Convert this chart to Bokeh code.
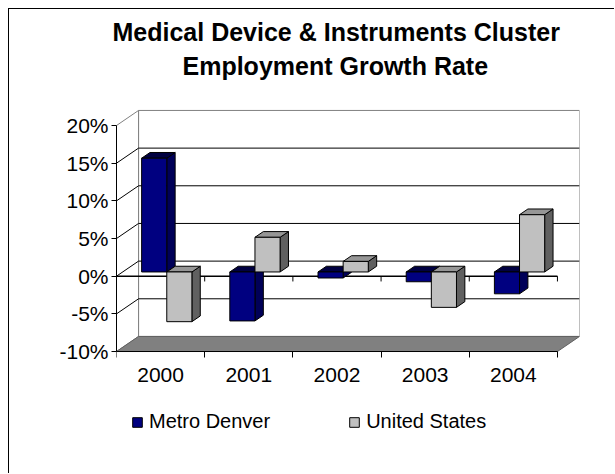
from bokeh.plotting import figure
from bokeh.models import (Range1d, FixedTicker, PrintfTickFormatter, Legend, LegendItem,
                          Title, LinearAxis)
from bokeh.embed import file_html
from bokeh.resources import INLINE

# ---- data ----
categories = ["2000", "2001", "2002", "2003", "2004"]
metro_denver = [15.1, -6.5, -0.8, -1.3, -2.9]
united_states = [-6.6, 4.6, 1.4, -4.7, 7.6]
value_ticks = [-10, -5, 0, 5, 10, 15, 20]
series_names = ["Metro Denver", "United States"]
title_lines = ["Medical Device & Instruments Cluster", "Employment Growth Rate"]

# ---- geometry / style (pseudo-3D oblique projection) ----
DX, DY = 0.25, 2.0          # wall depth offset (x units, % units)
BAR_W = 0.285               # bar width (category units)
F0, FD = 0.28, 0.38         # bar front depth fraction, bar depth fraction
FONT = "Liberation Sans"
n = len(categories)
vmin, vmax = value_ticks[0], value_ticks[-1]

p = figure(width=606, height=465,
           x_range=Range1d(0, n + DX), y_range=Range1d(-20.75, 25.71),
           output_backend="svg", toolbar_location=None,
           x_axis_location=None,
           min_border_left=107, min_border_right=36,
           min_border_top=73, min_border_bottom=42)
p.styles = {"margin-top": "8px", "margin-left": "8px",
            "border-top": "1px solid black", "border-left": "1px solid black"}
p.outline_line_color = None
p.grid.visible = False
p.background_fill_color = "white"
p.border_fill_color = "white"

# ---- walls ----
p.quad(left=[DX], right=[n + DX], bottom=[vmin + DY], top=[vmax + DY],
       fill_color="white", line_color="#808080", line_width=1)
p.patch([0, DX, DX, 0], [vmin, vmin + DY, vmax + DY, vmax],
        fill_color="white", line_color="#808080", line_width=1)
# gridlines
grid_vals = [v for v in value_ticks if vmin < v < vmax]
p.segment(x0=[DX] * len(grid_vals), y0=[v + DY for v in grid_vals],
          x1=[n + DX] * len(grid_vals), y1=[v + DY for v in grid_vals],
          line_color="black", line_width=1)
p.segment(x0=[0] * len(grid_vals), y0=grid_vals,
          x1=[DX] * len(grid_vals), y1=[v + DY for v in grid_vals],
          line_color="black", line_width=1)
# floor
p.patch([0, n, n + DX, DX], [vmin, vmin, vmin + DY, vmin + DY],
        fill_color="#808080", line_color="#606060", line_width=1)

# zero category line in front plane with ticks
p.segment(x0=[0], y0=[0], x1=[n], y1=[0], line_color="black", line_width=1.5)
p.segment(x0=list(range(n + 1)), y0=[0] * (n + 1), x1=list(range(n + 1)),
          y1=[-0.7] * (n + 1), line_color="black", line_width=1)

# ---- bars ----
def draw_series(values, offset, front, top, side):
    fx, fy = F0 * DX, F0 * DY
    bx, by = FD * DX, FD * DY
    lefts = [i + 0.5 + fx + offset for i in range(n)]
    rights = [l + BAR_W for l in lefts]
    hi = [max(v, 0) + fy for v in values]
    lo = [min(v, 0) + fy for v in values]
    side_xs = [[r, r + bx, r + bx, r] for r in rights]
    side_ys = [[l, l + by, h + by, h] for l, h in zip(lo, hi)]
    p.patches(side_xs, side_ys, fill_color=side, line_color="black", line_width=1)
    top_xs = [[l, r, r + bx, l + bx] for l, r in zip(lefts, rights)]
    top_ys = [[h, h, h + by, h + by] for h in hi]
    p.patches(top_xs, top_ys, fill_color=top, line_color="black", line_width=1)
    return p.quad(left=lefts, right=rights, bottom=lo, top=hi,
                  fill_color=front, line_color="black", line_width=1)

r_md = draw_series(metro_denver, -BAR_W, "#000080", "#000040", "#000058")
r_us = draw_series(united_states, 0.0, "#C0C0C0", "#969696", "#606060")

# ---- axes ----
ya = p.yaxis[0]
ya.ticker = FixedTicker(ticks=value_ticks, minor_ticks=[])
ya.formatter = PrintfTickFormatter(format="%d%%")
ya.bounds = (vmin, vmax)
ya.axis_line_color = "black"
ya.major_tick_out = 5
ya.major_tick_in = 0
ya.major_tick_line_color = "black"
ya.minor_tick_line_color = None
ya.major_label_standoff = 3
ya.major_label_text_font = FONT
ya.major_label_text_font_size = "21px"
ya.major_label_text_color = "black"

centers = [i + 0.5 for i in range(n)]
xa = LinearAxis(fixed_location=vmin,
                ticker=FixedTicker(ticks=centers, minor_ticks=list(range(n + 1))),
                major_label_overrides={c: lab for c, lab in zip(centers, categories)},
                bounds=(0, n), axis_line_color="black",
                major_tick_line_color=None, major_tick_out=0, major_tick_in=0,
                minor_tick_out=6, minor_tick_in=0, minor_tick_line_color="black",
                major_label_standoff=10, major_label_text_font=FONT,
                major_label_text_font_size="21px", major_label_text_color="black")
p.add_layout(xa, "below")

# ---- titles ----
p.title.text = title_lines[0]
p.title.align = "left"
p.title.offset = -4
p.title.standoff = 2
p.title.text_font = FONT
p.title.text_font_style = "bold"
p.title.text_font_size = "25px"
p.title.text_color = "black"
p.add_layout(Title(text=title_lines[1], align="left", offset=66, standoff=6,
                   text_font=FONT, text_font_style="bold",
                   text_font_size="25px", text_color="black"), "above")

# ---- legend ----
legend = Legend(items=[LegendItem(label=series_names[0], renderers=[r_md]),
                       LegendItem(label=series_names[1], renderers=[r_us])],
                orientation="horizontal", location=(15, -1),
                label_text_font=FONT, label_text_font_size="20px",
                label_text_color="black",
                glyph_width=12, glyph_height=12, label_standoff=6,
                spacing=78, padding=0, margin=0,
                border_line_color=None, background_fill_alpha=0)
p.add_layout(legend)

open("out.html", "w").write(file_html(p, INLINE))
